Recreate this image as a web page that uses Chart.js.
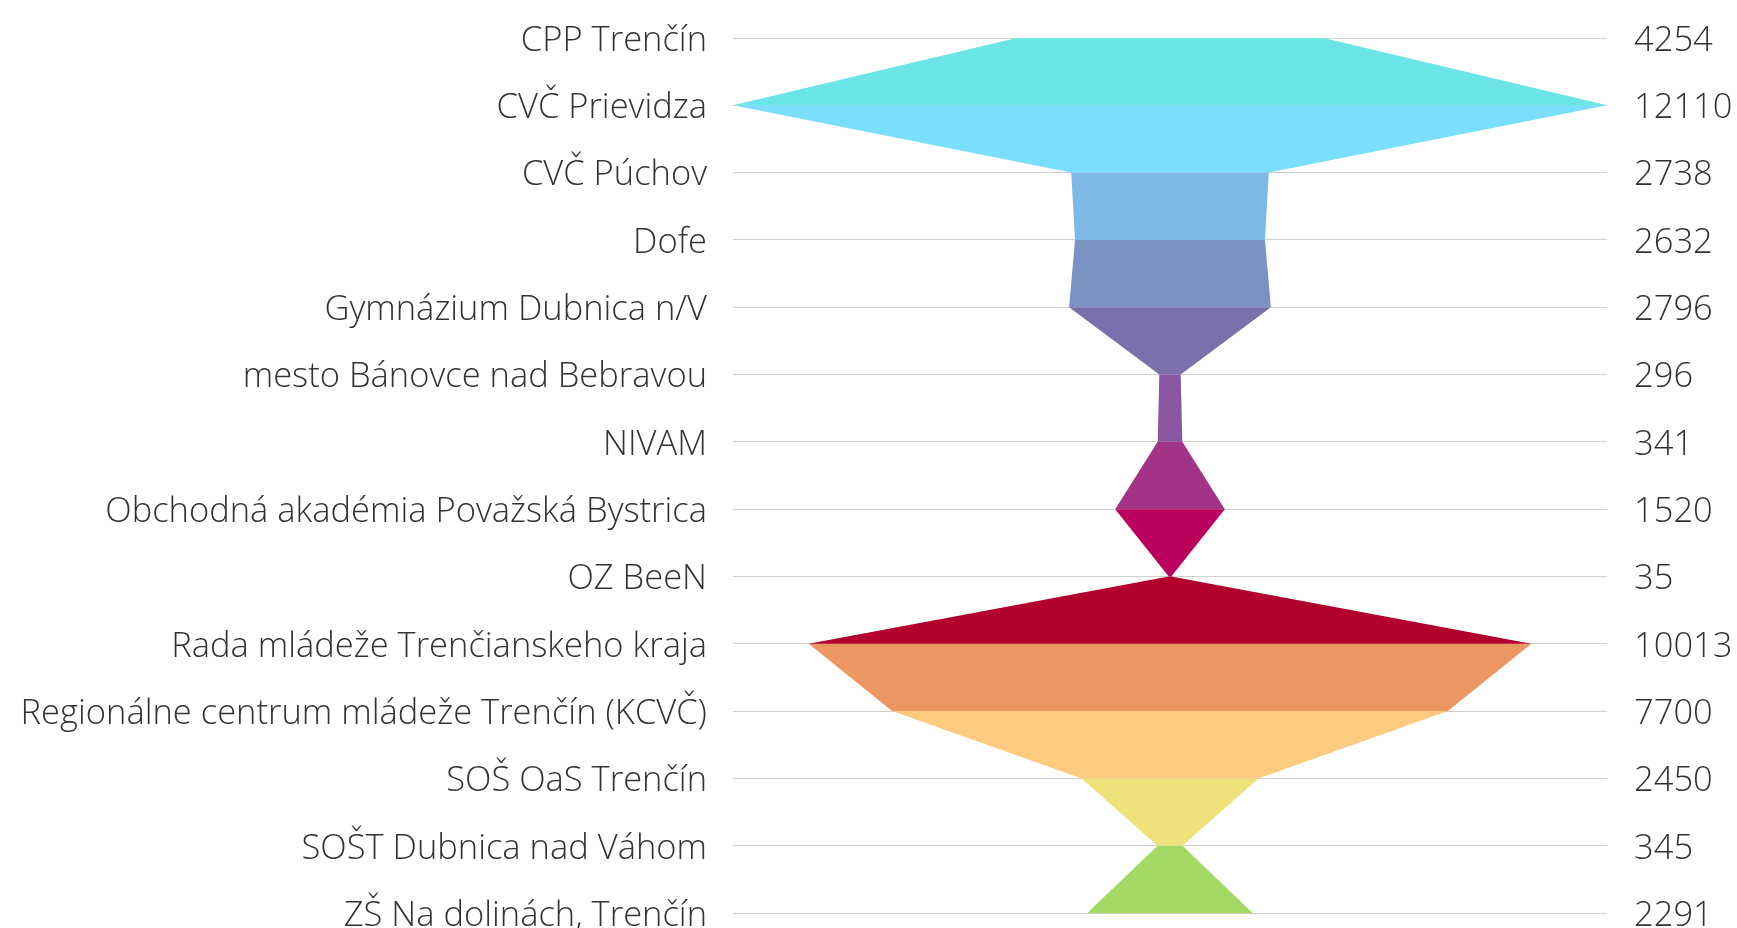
<!DOCTYPE html>
<html>
<head>
<meta charset="utf-8">
<script src="https://cdn.jsdelivr.net/npm/chart.js@4"></script>
<style>
  body { margin: 0; background: #fff; }
</style>
</head>
<body>
<canvas id="chart" width="1737" height="928"></canvas>
<script>
const categories = [
  'CPP Trenčín',
  'CVČ Prievidza',
  'CVČ Púchov',
  'Dofe',
  'Gymnázium Dubnica n/V',
  'mesto Bánovce nad Bebravou',
  'NIVAM',
  'Obchodná akadémia Považská Bystrica',
  'OZ BeeN',
  'Rada mládeže Trenčianskeho kraja',
  'Regionálne centrum mládeže Trenčín (KCVČ)',
  'SOŠ OaS Trenčín',
  'SOŠT Dubnica nad Váhom',
  'ZŠ Na dolinách, Trenčín'
];

const values = [4254, 12110, 2738, 2632, 2796, 296, 341, 1520, 35, 10013, 7700, 2450, 345, 2291];

const bandColors = [
  '#6be5e8', '#79dffd', '#7fb9e6', '#7b92c2', '#7b70ab', '#8b56a0', '#a33386',
  '#bb015c', '#b3002d', '#ec9662', '#fdcb7f', '#ede37a', '#a2da65'
];

const maxValue = Math.max(...values);
const valueLabels = values.map(v => String(v));

// one closed shape per pair of neighbouring rows, mirrored round zero
const datasets = [];
for (let i = 0; i < categories.length - 1; i++) {
  const top = values[i], bottom = values[i + 1];
  datasets.push({
    data: [
      { x: -top, y: categories[i] },
      { x: top, y: categories[i] },
      { x: bottom, y: categories[i + 1] },
      { x: -bottom, y: categories[i + 1] },
      { x: -top, y: categories[i] }
    ],
    backgroundColor: bandColors[i],
    borderWidth: 0,
    pointRadius: 0,
    tension: 0,
    fill: 'shape'
  });
}

const tickFont = { family: "'Open Sans', sans-serif", size: 34.5, weight: '300' };

new Chart(document.getElementById('chart'), {
  type: 'line',
  data: { datasets },
  options: {
    responsive: false,
    animation: false,
    layout: { padding: { top: 38, bottom: 15, left: 0, right: 0 } },
    plugins: { legend: { display: false }, tooltip: { enabled: false } },
    scales: {
      x: { type: 'linear', min: -maxValue, max: maxValue, display: false },
      y: {
        type: 'category',
        labels: categories,
        position: 'left',
        border: { display: false },
        grid: { color: '#d0d0d0', lineWidth: 1, drawTicks: false },
        ticks: { padding: 26, labelOffset: 3, color: '#333', font: tickFont, autoSkip: false },
        afterFit(scale) {
          scale.width = 733;
          scale.paddingTop = 0;
          scale.paddingBottom = 0;
        }
      },
      y2: {
        type: 'category',
        labels: valueLabels,
        position: 'right',
        border: { display: false },
        grid: { display: false, drawTicks: false },
        ticks: { padding: 27, labelOffset: 3, color: '#333', font: tickFont, autoSkip: false },
        afterFit(scale) {
          scale.width = 130;
          scale.paddingTop = 0;
          scale.paddingBottom = 0;
        }
      }
    }
  }
});
</script>
</body>
</html>
